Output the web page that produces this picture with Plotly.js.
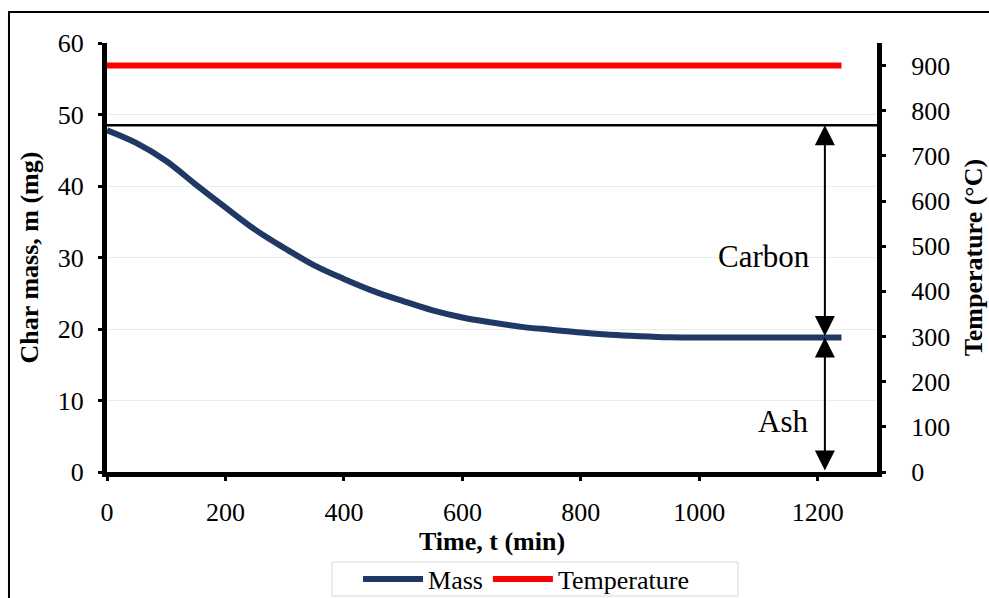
<!DOCTYPE html>
<html>
<head>
<meta charset="utf-8">
<script src="https://cdn.plot.ly/plotly-3.0.1.min.js"></script>
<style>html,body{margin:0;padding:0;background:#fff;}#chart{width:989px;height:598px;}</style>
</head>
<body>
<div id="chart"></div>
<script>
// ---- data ----
const timeMin = [0, 50, 100, 150, 200, 250, 300, 350, 400, 450, 500, 550, 600, 650, 700, 750, 800, 850, 900, 950, 1000, 1050, 1100, 1150, 1200, 1240];
const massMg  = [47.8, 46.0, 43.5, 40.2, 37.0, 33.9, 31.3, 28.9, 27.0, 25.3, 23.9, 22.6, 21.6, 20.9, 20.3, 19.9, 19.5, 19.2, 19.0, 18.85, 18.8, 18.8, 18.8, 18.8, 18.8, 18.8];
const tempTime = [0, 200, 400, 600, 800, 1000, 1240];
const tempC    = [900, 900, 900, 900, 900, 900, 900];
const initialMass = 48.5;   // horizontal reference line (mg)
const ashMass = 18.8;       // residual ash level (mg)
const arrowTime = 1212;     // time where the bracket arrows sit
const xTicks = [0, 200, 400, 600, 800, 1000, 1200];
const yTicks = [0, 10, 20, 30, 40, 50, 60];
const y2Ticks = [0, 100, 200, 300, 400, 500, 600, 700, 800, 900];

const serif = '"Liberation Serif", "Times New Roman", serif';

const traces = [
  {x: timeMin, y: massMg, name: 'Mass', type: 'scatter', mode: 'lines',
   line: {color: '#1f3864', width: 6, shape: 'spline', smoothing: 1}, yaxis: 'y'},
  {x: tempTime, y: tempC, name: 'Temperature', type: 'scatter', mode: 'lines',
   line: {color: '#ff0000', width: 6}, yaxis: 'y2'}
];

const axisCommon = {
  showline: true, linecolor: '#000', linewidth: 5,
  ticks: 'outside', ticklen: 4, tickwidth: 3, tickcolor: '#000',
  tickfont: {family: serif, size: 26, color: '#000'},
  zeroline: false, fixedrange: true, automargin: false
};

const layout = {
  width: 989, height: 598,
  margin: {l: 107, r: 112, t: 43, b: 126, autoexpand: false},
  paper_bgcolor: '#fff', plot_bgcolor: '#fff',
  font: {family: serif, color: '#000'},
  showlegend: true,
  legend: {orientation: 'h', x: 0.326, xanchor: 'left', y: -0.2494, yanchor: 'middle',
           bgcolor: 'rgba(0,0,0,0)', borderwidth: 0,
           font: {family: serif, size: 26, color: '#000'},
           itemwidth: 60, tracegroupgap: 0},
  xaxis: Object.assign({}, axisCommon, {
    range: [0, 1300], tickvals: xTicks, ticktext: xTicks.map(String),
    showgrid: false, ticklabelstandoff: 9,
    title: {text: '<b>Time, t (min)</b>', font: {family: serif, size: 26, color: '#000'}, standoff: 2}
  }),
  yaxis: Object.assign({}, axisCommon, {
    range: [0, 60], tickvals: yTicks, ticktext: yTicks.map(String),
    showgrid: true, gridcolor: '#ececec', gridwidth: 1, ticklabelstandoff: 9,
    title: {text: '<b>Char mass, m (mg)</b>', font: {family: serif, size: 26, color: '#000'}, standoff: 13}
  }),
  yaxis2: Object.assign({}, axisCommon, {
    range: [0, 950], tickvals: y2Ticks, ticktext: y2Ticks.map(String),
    overlaying: 'y', side: 'right', showgrid: false, ticklabelstandoff: 20,
    title: {text: '<b>Temperature (°C)</b>', font: {family: serif, size: 26, color: '#000'}, standoff: 16}
  }),
  shapes: [
    {type: 'line', xref: 'paper', yref: 'y', x0: 0, x1: 1, y0: initialMass, y1: initialMass,
     line: {color: '#000', width: 2.5}},
    {type: 'rect', xref: 'paper', yref: 'paper', x0: -0.1273, x1: 1.5, y0: -0.6, y1: 1.0723,
     line: {color: '#000', width: 2}, fillcolor: 'rgba(0,0,0,0)', layer: 'below'},
    {type: 'rect', xref: 'paper', yref: 'paper', x0: 0.2922, x1: 0.8195, y0: -0.2890, y1: -0.2098,
     line: {color: '#d9d9d9', width: 1}, fillcolor: 'rgba(0,0,0,0)', layer: 'above'}
  ],
  annotations: [
    {xref: 'x', yref: 'y', axref: 'x', ayref: 'y', x: arrowTime, y: initialMass, ax: arrowTime, ay: ashMass,
     text: '', showarrow: true, arrowside: 'end+start', arrowhead: 2, arrowsize: 2, arrowwidth: 2,
     arrowcolor: '#000', standoff: 0, startstandoff: 0},
    {xref: 'x', yref: 'y', axref: 'x', ayref: 'y', x: arrowTime, y: ashMass, ax: arrowTime, ay: 0,
     text: '', showarrow: true, arrowside: 'end+start', arrowhead: 2, arrowsize: 2, arrowwidth: 2,
     arrowcolor: '#000', standoff: 0, startstandoff: 0},
    {xref: 'x', yref: 'y', x: 1110, y: 30.1, text: 'Carbon', showarrow: false,
     font: {family: serif, size: 31, color: '#000'}},
    {xref: 'x', yref: 'y', x: 1141, y: 7.1, text: 'Ash', showarrow: false,
     font: {family: serif, size: 31, color: '#000'}}
  ]
};

Plotly.newPlot('chart', traces, layout, {staticPlot: true, displayModeBar: false});
</script>
</body>
</html>
